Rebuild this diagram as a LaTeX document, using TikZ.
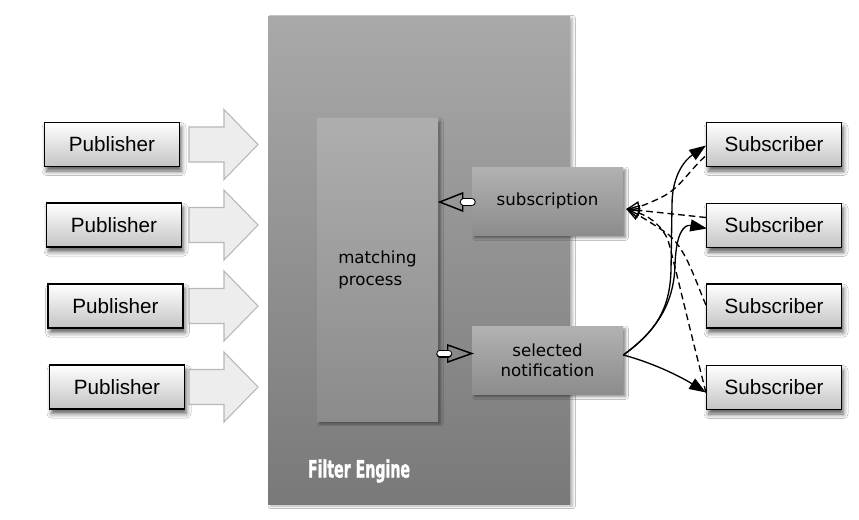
\documentclass[tikz,border=0pt]{standalone}
\usepackage{graphicx}
\usepackage{fontspec}
\setmainfont{Liberation Sans}
\newfontfamily\dvsans{DejaVu Sans}
\newfontfamily\titlefont{DejaVu Sans Bold}[FakeBold=1.5]
\usetikzlibrary{arrows.meta,shadows.blur,calc}

\definecolor{engtop}{HTML}{A9A9A9}
\definecolor{engbot}{HTML}{797979}
\definecolor{proctop}{HTML}{AEAEAE}
\definecolor{procbot}{HTML}{8B8B8B}
\definecolor{msgtop}{HTML}{B2B2B2}
\definecolor{msgbot}{HTML}{8C8C8C}
\definecolor{actorbot}{HTML}{C4C4C4}
\definecolor{fatfill}{HTML}{EDEDED}
\definecolor{fatline}{HTML}{B8B8B8}

\begin{document}
\begin{tikzpicture}[x=0.75pt,y=-0.75pt,
  actor/.style={draw=black, line width=1.1pt, top color=white, bottom color=actorbot,
    minimum width=101pt, minimum height=32.75pt, inner sep=0pt,
    font=\fontsize{15.5}{18}\selectfont,
    blur shadow={shadow xshift=1.5pt, shadow yshift=-3.5pt, shadow blur radius=3.5pt, shadow opacity=65}},
  engine/.style={top color=engtop, bottom color=engbot, minimum width=226.5pt,
    minimum height=366pt, inner sep=0pt,
    blur shadow={shadow xshift=2pt, shadow yshift=-1.5pt, shadow blur radius=2pt, shadow opacity=30}},
  procbox/.style={top color=proctop, bottom color=procbot, minimum width=90.75pt,
    minimum height=227.25pt, inner sep=0pt, align=left,
    font=\dvsans\fontsize{12.5}{16.5}\selectfont,
    blur shadow={shadow xshift=2pt, shadow yshift=-2pt, shadow blur radius=2pt, shadow opacity=40}},
  msgbox/.style={top color=msgtop, bottom color=msgbot, minimum width=113.25pt,
    minimum height=51pt, inner sep=0pt, align=center,
    font=\dvsans\fontsize{12.5}{15}\selectfont,
    blur shadow={shadow xshift=2pt, shadow yshift=-2pt, shadow blur radius=2pt, shadow opacity=45}},
  fatarrow/.pic={\draw[draw=fatline, fill=fatfill, line width=0.8pt, line join=miter]
    (0,-17.5) -- (35,-17.5) -- (35,-35) -- (69,0) -- (35,35) -- (35,17.5) -- (0,17.5) -- cycle;},
  tailout/.style={line width=6pt, line cap=round, black},
  tailin/.style={line width=4.4pt, line cap=round, white},
  hollowhead/.style={line width=1.1pt, line join=miter},
  notify/.style={line width=1pt, -{Triangle[length=12.5pt, width=9pt]}},
  request/.style={line width=1pt, dash pattern=on 5pt off 3pt,
    -{Triangle[open, length=10pt, width=8pt]}},
]

\fill[white] (0,0) rectangle (859,519);
\useasboundingbox (0,0) rectangle (859,519);

% engine and its inner parts
\node[engine] (engine) at (419,260) {};
\node[procbox] (match) at (377.5,270) {matching\\process};
\node[msgbox] (subscr) at (547.5,201) {subscription};
\node[msgbox] (notif) at (547.5,360) {selected\\notification};
\node[text=white, font=\titlefont\fontsize{18}{20}\selectfont, inner sep=0pt]
  (title) at (359,471) {\scalebox{0.59}[1]{Filter Engine}};

% subscription -> matching process
\draw[hollowhead] ($(subscr.west)+(-32,1)$) -- ++(23,-9) -- ++(0,18) -- cycle;
\draw[tailout] ($(subscr.west)+(0,1)$) -- ($(subscr.west)+(-8,1)$);
\draw[tailin] ($(subscr.west)+(0,1)$) -- ($(subscr.west)+(-8,1)$);

% matching process -> selected notification
\draw[hollowhead] ($(notif.west)+(0,-6.5)$) -- ++(-24,-8.5) -- ++(0,17) -- cycle;
\draw[tailout] ($(match.east)+(2,83.5)$) -- ($(match.east)+(10,83.5)$);
\draw[tailin] ($(match.east)+(2,83.5)$) -- ($(match.east)+(10,83.5)$);

% publishers
\foreach \i/\px/\py in {1/112/144.5, 2/114/225, 3/115.5/306, 4/117/387}{
  \node[actor] (pub\i) at (\px,\py) {Publisher};
  \pic at (189,\py) {fatarrow};
}

% subscribers
\foreach \i/\py in {1/144.5, 2/225.5, 3/306, 4/387.5}{
  \node[actor] (sub\i) at (774,\py) {Subscriber};
}

\coordinate (nout) at ($(notif.east)+(0,-5)$);
\coordinate (sin) at ($(subscr.east)+(3,8)$);

% notifications delivered
\draw[notify] (nout) .. controls (655,332) and (670,310) .. (671,270)
  -- (672,205) .. controls (672,175) and (685,160) .. ($(sub1.west)+(0,1)$);
\draw[notify] (nout) .. controls (655,332) and (674,305) .. (675,265)
  .. controls (676,235) and (683,224) .. ($(sub2.west)+(1,3)$);
\draw[notify] (nout) .. controls (650,362) and (678,375) .. ($(sub4.west)+(0,5)$);

% subscriptions sent
\draw[request] ($(sub1.west)+(-1,12)$) .. controls (688,172) and (680,188) .. (662,197)
  .. controls (652,202) and (642,206) .. (sin);
\draw[request] ($(sub2.west)+(0,-8)$) -- (sin);
\draw[request] ($(sub3.west)+(0,-1)$) .. controls (695,280) and (685,245) .. (665,232)
  .. controls (650,222) and (640,216) .. (sin);
\draw[request] ($(sub4.west)+(0,5)$) .. controls (690,330) and (676,270) .. (668,240)
  .. controls (660,222) and (645,215) .. (sin);

\end{tikzpicture}
\end{document}
